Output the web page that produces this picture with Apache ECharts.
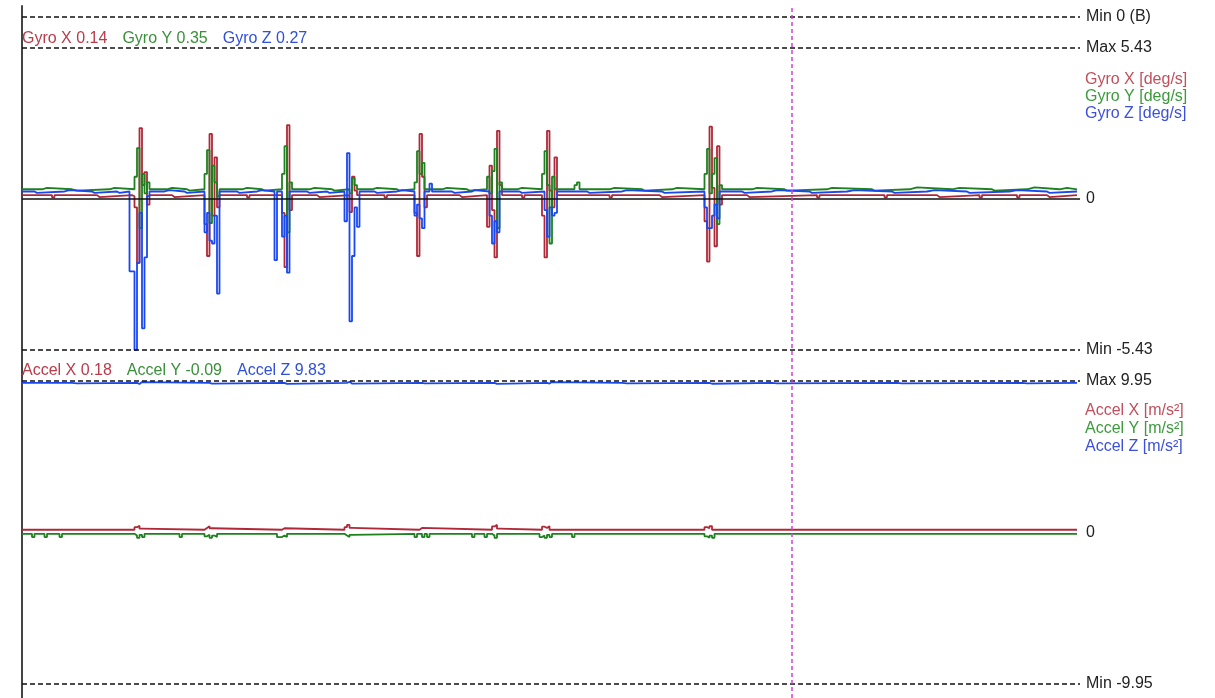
<!DOCTYPE html>
<html><head><meta charset="utf-8">
<script src="https://cdn.jsdelivr.net/npm/echarts/dist/echarts.min.js"></script>
<style>html,body{margin:0;padding:0;background:#fff}#c{width:1215px;height:698px}</style>
</head><body><div id="c"></div>
<script>
// ---- data ----
const gyroNames = ['Gyro X', 'Gyro Y', 'Gyro Z'];
const gyroUnit = '[deg/s]';
const gyroCurrent = [0.14, 0.35, 0.27];
const gyroRange = 5.43;
const accelNames = ['Accel X', 'Accel Y', 'Accel Z'];
const accelUnit = '[m/s\u00b2]';
const accelCurrent = [0.18, -0.09, 9.83];
const accelRange = 9.95;
const boolMin = 0;
const timeMax = 423.2;
const cursorT = 308;

const gyroX = [[0,0.14],[12,0.06],[13,0.14],[30,0.07],[31,0.14],
 [44,0.1],[45,-0.3],[46,-2.3],[47,2.55],[48,0.5],[49,0.97],[50,-0.2],[51,0.14],
 [60,0.07],[61,0.14],
 [73,-0.9],[74,-2.05],[75,2.34],[76,-0.6],[77,1.5],[78,-0.3],[79,0.14],
 [90,0.06],[91,0.14],
 [104,-0.5],[105,-2.45],[106,2.66],[107,-0.4],[108,0.14],
 [118,0.07],[119,0.14],
 [131,-0.47],[132,0.8],[133,0.3],[134,0.14],
 [145,0.06],[146,0.14],
 [157,-0.5],[158,-2.05],[159,2.34],[160,0.8],[161,-0.3],[162,0.14],
 [175,0.07],[176,0.14],
 [186,-1.0],[187,1.2],[188,-0.4],[189,-2.1],[190,2.45],[191,0.5],[192,0.14],
 [200,0.06],[201,0.14],
 [208,-0.6],[209,-2.1],[210,2.45],[211,0.3],[212,-0.3],[213,1.5],[214,0.14],
 [235,0.06],[236,0.14],[255,0.07],[256,0.14],
 [273,-0.8],[274,-2.25],[275,2.6],[276,0.4],[277,-1.7],[278,1.9],[279,-0.2],[280,0.14],
 [290,0.07],[291,0.14],[318,0.06],[319,0.14],[345,0.06],[346,0.14],[366,0.07],[367,0.14],
 [383,0.06],[384,0.14],[398,0.06],[399,0.14],[410,0.07],[411,0.14],[422,0.14]];

const gyroY = [[0,0.35],[8,0.4],[10,0.35],[20,0.3],[22,0.35],[35,0.4],[37,0.35],
 [45,0.8],[46,1.83],[47,-1.05],[48,0.9],[49,0.2],[50,0.6],[51,0.35],
 [58,0.4],[60,0.35],[66,0.3],[67,0.35],
 [73,0.9],[74,1.76],[75,-0.87],[76,1.2],[77,0.6],[78,0.1],[79,0.35],
 [88,0.4],[90,0.35],[96,0.3],[97,0.35],
 [104,0.9],[105,1.9],[106,-1.2],[107,0.6],[108,0.35],
 [115,0.4],[117,0.35],[124,0.3],[125,0.35],
 [131,0.2],[132,0.75],[133,0.5],[134,0.35],
 [140,0.4],[142,0.35],[150,0.3],[151,0.35],
 [157,0.6],[158,1.72],[159,0.9],[160,1.3],[161,0.35],
 [168,0.4],[170,0.35],[178,0.3],[179,0.35],
 [186,0.8],[187,0.2],[188,1.0],[189,1.8],[190,-1.05],[191,0.6],[192,0.35],
 [198,0.4],[200,0.35],
 [208,0.9],[209,1.72],[210,0.5],[211,-1.6],[212,0.8],[213,0.35],
 [221,0.5],[222,0.6],[223,0.35],[235,0.4],[237,0.35],[248,0.3],[249,0.35],[260,0.4],[262,0.35],
 [273,0.9],[274,1.8],[275,0.2],[276,0.9],[277,1.47],[278,-0.9],[279,0.5],[280,0.35],
 [292,0.4],[294,0.35],[305,0.3],[306,0.35],[322,0.4],[324,0.35],[340,0.3],[341,0.35],
 [355,0.42],[358,0.35],[372,0.4],[375,0.35],[388,0.3],[389,0.35],[402,0.42],[405,0.35],
 [415,0.4],[418,0.35],[422,0.35]];

const gyroZ = [[0,0.27],[5,0.22],[6,0.27],[17,0.32],[19,0.27],[28,0.22],[29,0.27],[38,0.22],[39,0.27],
 [43,-2.6],[45,-5.43],[46,-2.3],[47,-0.5],[48,-4.65],[49,-2.1],[50,0.1],[51,0.27],
 [57,0.32],[59,0.27],[65,0.22],[66,0.27],
 [73,-1.2],[74,-0.5],[75,-1.5],[76,-1.6],[77,-0.6],[78,-3.4],[79,0.27],
 [86,0.22],[87,0.27],[94,0.32],[96,0.27],
 [101,-2.2],[102,0.27],[104,-1.35],[105,-0.6],[106,-2.65],[107,0.27],
 [114,0.22],[115,0.27],[122,0.22],[123,0.27],
 [129,-0.8],[130,1.65],[131,-4.4],[132,-2.05],[133,-0.3],[134,-1.0],[135,0.27],
 [141,0.22],[142,0.27],[150,0.32],[152,0.27],
 [157,-0.6],[158,-0.2],[159,-0.7],[160,-1.05],[161,0.27],[163,0.55],[164,0.27],
 [172,0.22],[173,0.27],[180,0.32],[181,0.27],
 [187,-0.6],[188,-1.6],[189,-0.8],[190,-1.2],[191,0.27],
 [199,0.22],[200,0.27],
 [209,-0.4],[210,-1.35],[211,-0.3],[212,-0.6],[213,-0.5],[214,0.27],
 [226,0.22],[227,0.27],[240,0.32],[242,0.27],[256,0.22],[257,0.27],
 [273,-0.3],[274,-1.05],[276,-0.6],[277,-0.2],[278,-0.7],[279,0.27],
 [288,0.22],[289,0.27],[300,0.32],[302,0.27],[315,0.22],[316,0.27],[330,0.32],[333,0.27],
 [348,0.22],[349,0.27],[362,0.32],[365,0.27],[378,0.22],[379,0.27],[395,0.32],[398,0.27],
 [410,0.22],[411,0.27],[422,0.27]];

const accelX = [[0,0.18],[45,0.35],[46,0.45],[47,0.25],[48,0.18],[73,0.3],[74,0.42],[75,0.28],[76,0.18],
 [104,0.28],[105,0.18],[129,0.35],[130,0.5],[131,0.3],[132,0.18],[159,0.3],[160,0.18],
 [188,0.4],[189,0.5],[190,0.25],[191,0.18],[208,0.38],[209,0.3],[210,0.42],[211,0.18],
 [273,0.35],[274,0.28],[275,0.42],[276,0.18],[422,0.18]];

const accelY = [[0,-0.09],[4,-0.3],[5,-0.09],[9,-0.3],[10,-0.09],[15,-0.3],[16,-0.09],
 [45,-0.2],[46,-0.35],[47,-0.15],[48,-0.3],[49,-0.09],[63,-0.3],[64,-0.09],
 [73,-0.25],[74,-0.15],[75,-0.35],[76,-0.2],[77,-0.3],[78,-0.09],
 [102,-0.3],[104,-0.2],[105,-0.3],[106,-0.09],[129,-0.2],[130,-0.3],[131,-0.15],[132,-0.09],
 [157,-0.3],[158,-0.09],[160,-0.3],[161,-0.09],[162,-0.3],[163,-0.09],[180,-0.3],[181,-0.09],
 [185,-0.3],[186,-0.09],[188,-0.2],[189,-0.35],[190,-0.09],
 [207,-0.3],[208,-0.2],[209,-0.35],[210,-0.15],[211,-0.3],[212,-0.09],[220,-0.3],[221,-0.09],
 [273,-0.25],[274,-0.35],[275,-0.2],[276,-0.35],[277,-0.09],[422,-0.09]];

const accelZ = [[0,9.83],[20,9.8],[22,9.83],[46,9.75],[47,9.88],[48,9.83],[75,9.78],[76,9.83],
 [105,9.76],[106,9.83],[130,9.9],[131,9.78],[132,9.83],[160,9.8],[161,9.83],[189,9.76],[190,9.83],
 [210,9.78],[211,9.88],[212,9.83],[240,9.8],[242,9.83],[275,9.77],[276,9.83],[300,9.8],[302,9.83],
 [350,9.8],[352,9.83],[400,9.8],[402,9.83],[422,9.83]];

// ---- styles ----
const FONT = "'Liberation Sans', Arial, sans-serif";
const lineCols = ['#b02838', '#1e801e', '#1a48f0'];
const headCols = ['#b83c4a', '#3a8f3a', '#3050d8'];
const legCols = ['#c0505c', '#3c9a3c', '#3c50dc'];
const dash = { type: [5, 3], color: '#111', width: 1.5 };

const L = 22, W = 1058;
const grids = [
  { left: L, width: W, top: 5, height: 12 },
  { left: L, width: W, top: 48, height: 302 },
  { left: L, width: W, top: 381, height: 303 },
  { left: L, width: W, top: 6, bottom: 0 }
];
const xAxes = grids.map((g, i) => ({ type: 'value', gridIndex: i, min: 0, max: timeMax, show: false }));
const yAxes = [
  { type: 'value', gridIndex: 0, min: 0, max: 1, show: false },
  { type: 'value', gridIndex: 1, min: -gyroRange, max: gyroRange, show: false },
  { type: 'value', gridIndex: 2, min: -accelRange, max: accelRange, show: false },
  { type: 'value', gridIndex: 3, min: 0, max: 1, show: true, axisLabel: { show: false }, axisTick: { show: false },
    splitLine: { show: false }, axisLine: { show: true, lineStyle: { color: '#444', width: 2 } } }
];

const lbl = { show: true, position: 'end', color: '#222', fontSize: 16, fontWeight: 'normal', fontFamily: FONT, distance: 6 };
function refSeries(gi, items) {
  return {
    type: 'line', xAxisIndex: gi, yAxisIndex: gi, data: [], z: 1, silent: true,
    markLine: { symbol: ['none', 'none'], silent: true, animation: false, data: items }
  };
}
function dataSeries(gi, name, data, col) {
  return { name, type: 'line', xAxisIndex: gi, yAxisIndex: gi, data, step: 'end', symbol: 'none',
    lineStyle: { color: col, width: 1.8 }, z: 3, animation: false };
}

const series = [
  refSeries(0, [{ yAxis: boolMin, lineStyle: dash, label: Object.assign({}, lbl, { formatter: 'Min ' + boolMin + ' (B)' }) }]),
  refSeries(1, [
    { yAxis: gyroRange, lineStyle: dash, label: Object.assign({}, lbl, { formatter: 'Max ' + gyroRange }) },
    { yAxis: 0, lineStyle: { type: 'solid', color: '#111', width: 1.5 }, label: Object.assign({}, lbl, { formatter: '0' }) },
    { yAxis: -gyroRange, lineStyle: dash, label: Object.assign({}, lbl, { formatter: 'Min -' + gyroRange }) }
  ]),
  refSeries(2, [
    { yAxis: accelRange, lineStyle: dash, label: Object.assign({}, lbl, { formatter: 'Max ' + accelRange }) },
    { yAxis: 0, lineStyle: { type: 'solid', color: 'rgba(0,0,0,0)', width: 1 }, label: Object.assign({}, lbl, { formatter: '0' }) },
    { yAxis: -accelRange, lineStyle: dash, label: Object.assign({}, lbl, { formatter: 'Min -' + accelRange }) }
  ]),
  dataSeries(1, gyroNames[0], gyroX, lineCols[0]),
  dataSeries(1, gyroNames[1], gyroY, lineCols[1]),
  dataSeries(1, gyroNames[2], gyroZ, lineCols[2]),
  dataSeries(2, accelNames[0], accelX, lineCols[0]),
  dataSeries(2, accelNames[1], accelY, lineCols[1]),
  dataSeries(2, accelNames[2], accelZ, lineCols[2]),
  {
    type: 'line', xAxisIndex: 3, yAxisIndex: 3, data: [], z: 5, silent: true,
    markLine: { symbol: ['none', 'none'], silent: true, animation: false, label: { show: false },
      data: [{ xAxis: cursorT, lineStyle: { type: [4, 3], color: '#d040d8', width: 1.5 } }] }
  }
];

const keys = ['r', 'g', 'b'];
function rich(cols, lh) {
  const o = {};
  keys.forEach((k, i) => o[k] = { color: cols[i], fontSize: 16, fontWeight: 'normal', fontFamily: FONT, lineHeight: lh });
  return o;
}
const headText = (names, vals) => names.map((n, i) => '{' + keys[i] + '|' + n + ' ' + vals[i] + '}').join('   ');
const legText = (names, unit) => names.map((n, i) => '{' + keys[i] + '|' + n + ' ' + unit + '}').join('\n');

const titles = [
  { left: 22, top: 30, padding: 0, text: headText(gyroNames, gyroCurrent), textStyle: { fontWeight: 'normal', rich: rich(headCols, 17) } },
  { left: 22, top: 362, padding: 0, text: headText(accelNames, accelCurrent), textStyle: { fontWeight: 'normal', rich: rich(headCols, 17) } },
  { left: 1085, top: 71, padding: 0, text: legText(gyroNames, gyroUnit), textStyle: { fontWeight: 'normal', rich: rich(legCols, 17) } },
  { left: 1085, top: 402, padding: 0, text: legText(accelNames, accelUnit), textStyle: { fontWeight: 'normal', rich: rich(legCols, 18) } }
];

const chart = echarts.init(document.getElementById('c'), null, { renderer: 'canvas' });
chart.setOption({
  backgroundColor: '#fff',
  animation: false,
  title: titles,
  grid: grids,
  xAxis: xAxes,
  yAxis: yAxes,
  series
});
</script></body></html>
